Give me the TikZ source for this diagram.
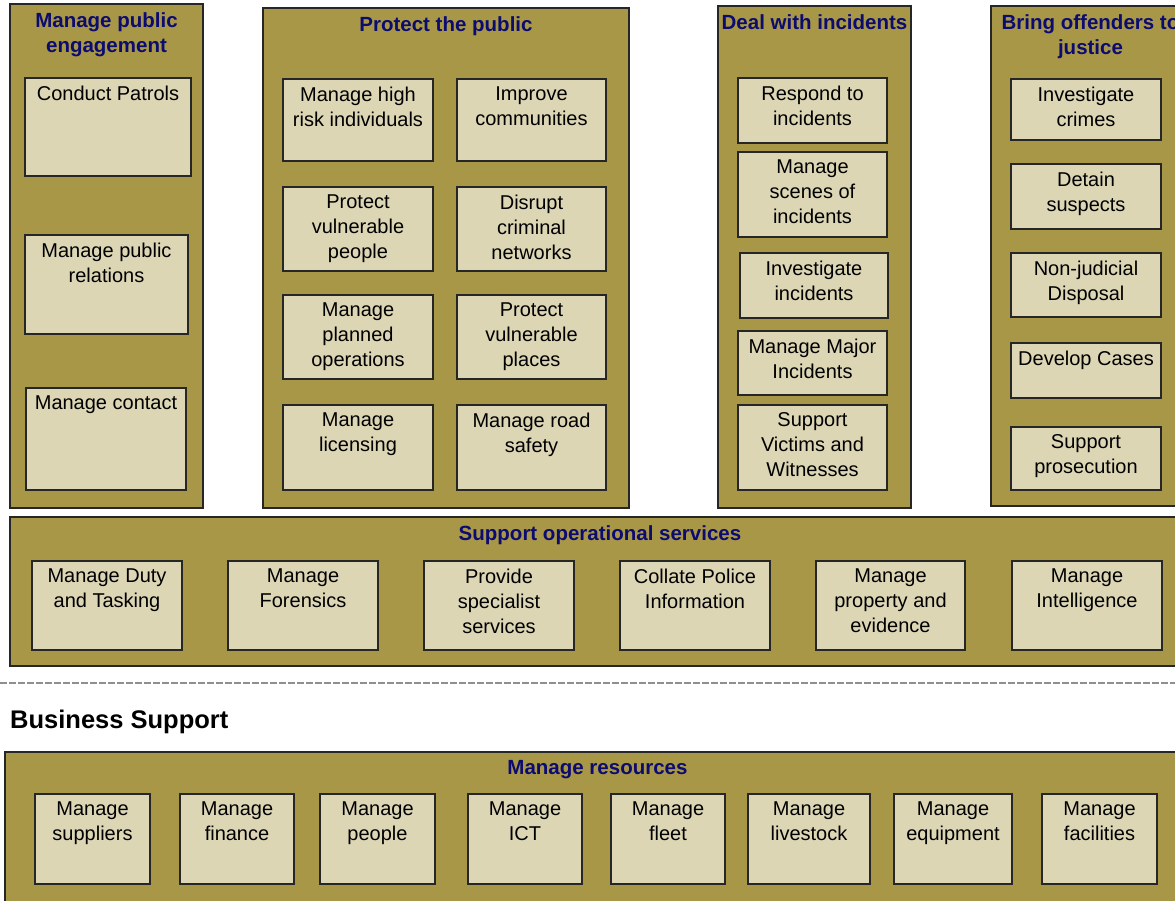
\documentclass[tikz,border=0pt]{standalone}
\usepackage{fontspec}
\setmainfont{Liberation Sans}
\usetikzlibrary{positioning}

\definecolor{groupfill}{rgb}{0.663, 0.592, 0.282}
\definecolor{taskfill}{rgb}{0.863, 0.839, 0.710}
\definecolor{titlecolor}{rgb}{0.047, 0.047, 0.439}
\definecolor{sepcolor}{rgb}{0.560, 0.560, 0.560}

\tikzset{
  groupframe/.style={draw=black!85, fill=groupfill, line width=1.1pt, inner sep=0pt},
  grouptitle/.style={text=titlecolor, align=center, inner sep=0pt,
    font={\fontsize{20.5}{25}\selectfont\bfseries}},
  taskframe/.style={draw=black!85, fill=taskfill, line width=1.2pt, inner sep=0pt},
  tasktext/.style={text=black, align=center, inner sep=0pt,
    font={\fontsize{20}{25}\selectfont}},
}

% name, x1, y1, x2, y2, title
\newcommand{\groupbox}[6]{%
  \node[groupframe, minimum width={#4-#2}, minimum height={#5-#3}]
    (#1) at ({(#2+#4)/2},{(#3+#5)/2}) {};
  \node[grouptitle, anchor=north] (#1-t) at ([yshift=-8.5pt]#1.north) {#6};}
% name, x1, y1, x2, y2, text
\newcommand{\taskbox}[6]{%
  \node[taskframe, minimum width={#4-#2}, minimum height={#5-#3}]
    (#1) at ({(#2+#4)/2},{(#3+#5)/2}) {};
  \node[tasktext, anchor=north] (#1-t) at ([yshift=-8pt]#1.north) {#6};}

\begin{document}
\begin{tikzpicture}[x=1pt, y=-1pt]
\useasboundingbox (0,0) rectangle (1175,900);
\clip (0,0) rectangle (1175,900);

% Manage public engagement
\groupbox{pe}{10}{4}{203}{508}{Manage public\\engagement}
\taskbox{patrols}{25}{78}{191}{176}{Conduct Patrols}
\taskbox{relations}{25}{235}{188}{334}{Manage public\\relations}
\taskbox{contact}{26}{388}{186}{490}{Manage contact}

% Protect the public
\groupbox{pp}{263}{8}{629}{508}{Protect the public}
\taskbox{highrisk}{283}{79}{433}{161}{Manage high\\risk individuals}
\taskbox{communities}{457}{79}{606}{161}{Improve\\communities}
\taskbox{vulpeople}{283}{187}{433}{271}{Protect\\vulnerable\\people}
\taskbox{networks}{457}{187}{606}{271}{Disrupt\\criminal\\networks}
\taskbox{planned}{283}{295}{433}{379}{Manage\\planned\\operations}
\taskbox{vulplaces}{457}{295}{606}{379}{Protect\\vulnerable\\places}
\taskbox{licensing}{283}{405}{433}{490}{Manage\\licensing}
\taskbox{roadsafety}{457}{405}{606}{490}{Manage road\\safety}

% Deal with incidents
\groupbox{di}{718}{6}{911}{508}{Deal with incidents}
\taskbox{respond}{738}{78}{887}{143}{Respond to\\incidents}
\taskbox{scenes}{738}{152}{887}{237}{Manage\\scenes of\\incidents}
\taskbox{invinc}{740}{253}{888}{318}{Investigate\\incidents}
\taskbox{major}{738}{331}{887}{395}{Manage Major\\Incidents}
\taskbox{victims}{738}{405}{887}{490}{Support\\Victims and\\Witnesses}

% Bring offenders to justice
\groupbox{bo}{991}{6}{1190}{506}{Bring offenders to\\justice}
\taskbox{crimes}{1011}{79}{1161}{140}{Investigate\\crimes}
\taskbox{detain}{1011}{164}{1161}{229}{Detain\\suspects}
\taskbox{disposal}{1011}{253}{1161}{317}{Non-judicial\\Disposal}
\taskbox{cases}{1011}{343}{1161}{398}{Develop Cases}
\taskbox{prosecution}{1011}{427}{1161}{490}{Support\\prosecution}

% Support operational services
\groupbox{so}{10}{517}{1190}{666}{Support operational services}
\taskbox{duty}{32}{561}{182}{650}{Manage Duty\\and Tasking}
\taskbox{forensics}{228}{561}{378}{650}{Manage\\Forensics}
\taskbox{specialist}{424}{561}{574}{650}{Provide\\specialist\\services}
\taskbox{policeinfo}{620}{561}{770}{650}{Collate Police\\Information}
\taskbox{property}{816}{561}{965}{650}{Manage\\property and\\evidence}
\taskbox{intelligence}{1012}{561}{1162}{650}{Manage\\Intelligence}

% separator
\draw[sepcolor, line width=2.2pt, dash pattern=on 7pt off 2pt] (0,683) -- (1175,683);
\node[anchor=base west, inner sep=0pt, font={\fontsize{25.5}{30}\selectfont\bfseries}]
  (bizsupport) at (10,728) {Business Support};

% Manage resources
\groupbox{mr}{5}{752}{1190}{925}{Manage resources}
\taskbox{suppliers}{35}{794}{150}{884}{Manage\\suppliers}
\taskbox{finance}{180}{794}{294}{884}{Manage\\finance}
\taskbox{people}{320}{794}{435}{884}{Manage\\people}
\taskbox{ict}{468}{794}{582}{884}{Manage\\ICT}
\taskbox{fleet}{611}{794}{725}{884}{Manage\\fleet}
\taskbox{livestock}{748}{794}{870}{884}{Manage\\livestock}
\taskbox{equipment}{894}{794}{1012}{884}{Manage\\equipment}
\taskbox{facilities}{1042}{794}{1157}{884}{Manage\\facilities}
\end{tikzpicture}
\end{document}
